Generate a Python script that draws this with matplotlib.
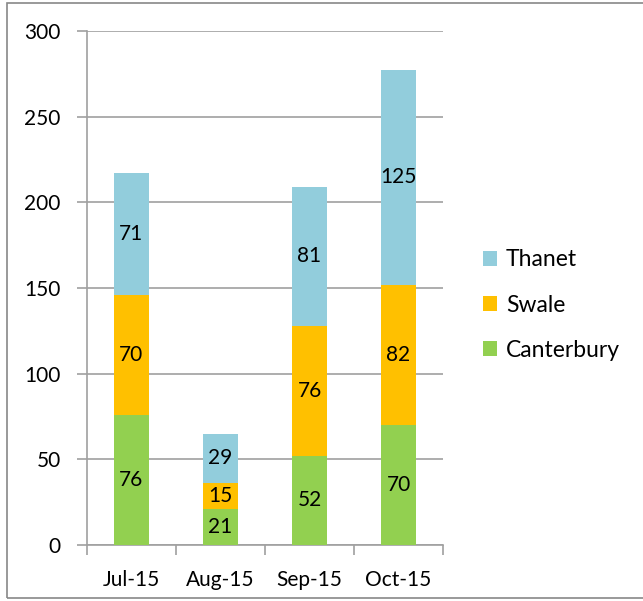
import matplotlib.pyplot as plt
from matplotlib.patches import Rectangle
from matplotlib.ticker import FixedLocator, NullFormatter

months = ['Jul-15', 'Aug-15', 'Sep-15', 'Oct-15']
canterbury = [76, 21, 52, 70]
swale = [70, 15, 76, 82]
thanet = [71, 29, 81, 125]

plt.rcParams['font.family'] = ['Lato', 'DejaVu Sans']
fs = 15

fig = plt.figure(figsize=(6.43, 6.01), dpi=100)
ax = fig.add_axes([87 / 643, 56 / 601, 356 / 643, 514 / 601])

# grey frame round the whole chart
fig.patches.append(Rectangle((7 / 643, 3 / 601), 1.0, 595 / 601, transform=fig.transFigure,
                             fill=False, edgecolor='#888888', linewidth=1.2))

x = range(len(months))
width = 0.4
bottom2 = [a + b for a, b in zip(canterbury, swale)]
b1 = ax.bar(x, canterbury, width, color='#92D050', label='Canterbury', zorder=3)
b2 = ax.bar(x, swale, width, bottom=canterbury, color='#FFC000', label='Swale', zorder=3)
b3 = ax.bar(x, thanet, width, bottom=bottom2, color='#92CDDC', label='Thanet', zorder=3)

for bars in (b1, b2, b3):
    ax.bar_label(bars, label_type='center', fontsize=fs, color='black')

ax.set_xlim(-0.5, 3.5)
ax.set_ylim(0, 300)
ax.set_yticks(range(0, 301, 50))
ax.yaxis.grid(True, color='#A0A0A0', linewidth=1.2, zorder=0)
ax.set_axisbelow(True)

ax.set_xticks(list(x))
ax.set_xticklabels(months)
ax.xaxis.set_minor_locator(FixedLocator([-0.5, 0.5, 1.5, 2.5, 3.5]))
ax.xaxis.set_minor_formatter(NullFormatter())
ax.tick_params(axis='x', which='major', length=0, pad=18, labelsize=fs)
ax.tick_params(axis='x', which='minor', length=7, color='#A0A0A0', width=1.2)
ax.tick_params(axis='y', length=7, color='#A0A0A0', width=1.2, pad=12, labelsize=fs)

for s in ['top', 'right']:
    ax.spines[s].set_visible(False)
for s in ['left', 'bottom']:
    ax.spines[s].set_color('#A0A0A0')
    ax.spines[s].set_linewidth(1.2)

handles = [b3, b2, b1]
ax.legend(handles, ['Thanet', 'Swale', 'Canterbury'], loc='center left',
          bbox_to_anchor=(483 / 643, (601 - 305) / 601), bbox_transform=fig.transFigure,
          frameon=False, fontsize=16.5, handlelength=0.6, handleheight=0.6,
          handletextpad=0.4, labelspacing=1.05, borderaxespad=0, borderpad=0)

fig.savefig('out.png', dpi=100)
